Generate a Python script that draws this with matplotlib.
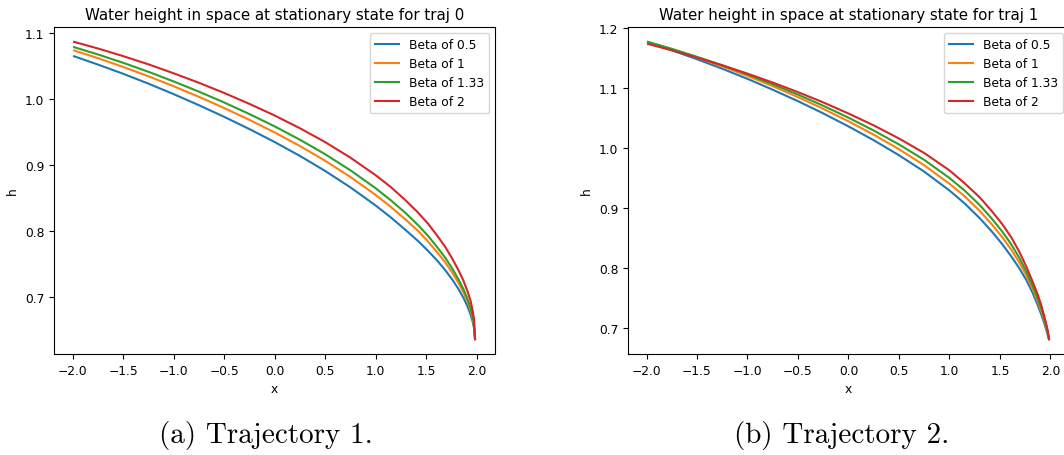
import matplotlib.pyplot as plt

# sample positions along the channel
x = [-1.985, -1.75, -1.5, -1.25, -1.0, -0.75, -0.5, -0.25, 0.0, 0.25, 0.5, 0.75, 1.0, 1.15,
     1.3, 1.42, 1.52, 1.61, 1.69, 1.76, 1.82, 1.87, 1.91, 1.94, 1.96, 1.975, 1.985]

betas = ['0.5', '1', '1.33', '2']

# stationary water height, traj 0
h0_beta_05 = [1.0642, 1.0517, 1.0378, 1.0229, 1.0070, 0.9903, 0.9727, 0.9542, 0.9346, 0.9136,
              0.8909, 0.8661, 0.8387, 0.8207, 0.8012, 0.7849, 0.7700, 0.7553, 0.7408, 0.7265,
              0.7125, 0.6990, 0.6861, 0.6740, 0.6638, 0.6531, 0.6365]
h0_beta_1 = [1.0730, 1.0614, 1.0481, 1.0340, 1.0189, 1.0030, 0.9860, 0.9681, 0.9491, 0.9286,
             0.9063, 0.8818, 0.8546, 0.8366, 0.8169, 0.8002, 0.7840, 0.7680, 0.7526, 0.7369,
             0.7219, 0.7073, 0.6933, 0.6803, 0.6688, 0.6570, 0.6365]
h0_beta_133 = [1.0780, 1.0670, 1.0544, 1.0408, 1.0262, 1.0108, 0.9944, 0.9769, 0.9583, 0.9381,
               0.9162, 0.8919, 0.8648, 0.8466, 0.8268, 0.8090, 0.7926, 0.7756, 0.7596, 0.7431,
               0.7272, 0.7122, 0.6974, 0.6841, 0.6720, 0.6596, 0.6365]
h0_beta_2 = [1.0860, 1.0760, 1.0645, 1.0521, 1.0385, 1.0242, 1.0088, 0.9923, 0.9747, 0.9555,
             0.9345, 0.9110, 0.8845, 0.8666, 0.8460, 0.8280, 0.8110, 0.7930, 0.7760, 0.7580,
             0.7410, 0.7250, 0.7090, 0.6950, 0.6810, 0.6670, 0.6365]

# stationary water height, traj 1
h1_beta_05 = [1.1760, 1.1630, 1.1481, 1.1323, 1.1154, 1.0973, 1.0782, 1.0579, 1.0362, 1.0132,
              0.9882, 0.9609, 0.9295, 0.9080, 0.8833, 0.8611, 0.8406, 0.8203, 0.8003, 0.7807,
              0.7603, 0.7403, 0.7227, 0.7077, 0.6967, 0.6877, 0.6820]
h1_beta_1 = [1.1766, 1.1647, 1.1508, 1.1362, 1.1203, 1.1032, 1.0850, 1.0655, 1.0447, 1.0224,
             0.9982, 0.9715, 0.9407, 0.9199, 0.8954, 0.8730, 0.8523, 0.8314, 0.8100, 0.7885,
             0.7668, 0.7465, 0.7281, 0.7117, 0.7000, 0.6903, 0.6820]
h1_beta_133 = [1.1770, 1.1654, 1.1521, 1.1380, 1.1228, 1.1064, 1.0892, 1.0706, 1.0507, 1.0294,
               1.0062, 0.9805, 0.9503, 0.9294, 0.9052, 0.8825, 0.8616, 0.8403, 0.8178, 0.7947,
               0.7721, 0.7515, 0.7323, 0.7148, 0.7026, 0.6923, 0.6820]
h1_beta_2 = [1.1735, 1.1630, 1.1508, 1.1380, 1.1241, 1.1092, 1.0933, 1.0762, 1.0577, 1.0379,
             1.0161, 0.9919, 0.9630, 0.9415, 0.9180, 0.8950, 0.8740, 0.8520, 0.8280, 0.8030,
             0.7790, 0.7580, 0.7380, 0.7190, 0.7060, 0.6950, 0.6820]

trajs = [
    [h0_beta_05, h0_beta_1, h0_beta_133, h0_beta_2],
    [h1_beta_05, h1_beta_1, h1_beta_133, h1_beta_2],
]
captions = ['(a) Trajectory 1.', '(b) Trajectory 2.']

plt.rcParams['font.size'] = 8.8

fig = plt.figure(figsize=(10.64, 4.56), dpi=100)
positions = [[0.0508, 0.2215, 0.4145, 0.7171],
             [0.5902, 0.2215, 0.4145, 0.7171]]
caption_x = [0.25, 0.7914]

for i, curves in enumerate(trajs):
    ax = fig.add_axes(positions[i])
    for beta, h in zip(betas, curves):
        ax.plot(x, h, label='Beta of ' + beta)
    ax.set_title('Water height in space at stationary state for traj %d' % i, fontsize=10.8)
    ax.set_xlabel('x')
    ax.set_ylabel('h')
    ax.legend(loc='upper right')
    fig.text(caption_x[i], 0.044, captions[i], fontfamily='cmr10', fontsize=21,
             ha='center', va='center')

fig.savefig('out.png', dpi=100)
